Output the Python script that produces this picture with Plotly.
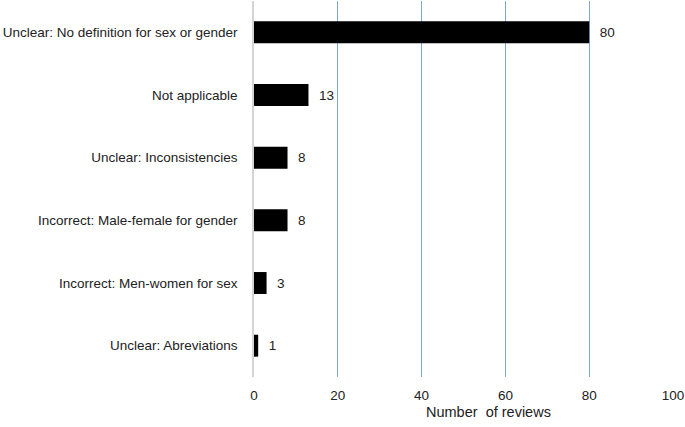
import plotly.graph_objects as go

# categories listed bottom -> top, as plotly draws them
categories = [
    "Unclear: Abreviations",
    "Incorrect: Men-women for sex",
    "Incorrect: Male-female for gender",
    "Unclear: Inconsistencies",
    "Not applicable",
    "Unclear: No definition for sex or gender",
]
reviews = [1, 3, 8, 8, 13, 80]
x_ticks = [0, 20, 40, 60, 80, 100]

font_family = "Liberation Sans, Arial, sans-serif"

fig = go.Figure(
    go.Bar(
        x=reviews,
        y=categories,
        orientation="h",
        marker=dict(color="black", line=dict(width=0)),
        width=0.35,
        text=reviews,
        texttemplate="  %{x}",
        textposition="outside",
        textfont=dict(size=13.5, color="#222", family=font_family),
        cliponaxis=False,
    )
)

fig.update_layout(
    width=685,
    height=427,
    margin=dict(l=254, r=12, t=1, b=50, autoexpand=False),
    plot_bgcolor="white",
    paper_bgcolor="white",
    font=dict(family=font_family, size=13.5, color="#222"),
    showlegend=False,
    template="none",
)

fig.update_xaxes(
    range=[0, 100],
    tickvals=x_ticks,
    showgrid=True,
    gridcolor="rgb(120,170,225)",
    gridwidth=1.2,
    zeroline=False,
    showline=False,
    ticks="",
    automargin=False,
    ticklabelstandoff=8,
)

# axis title sits right of centre in the original, so place it by hand
fig.add_annotation(
    text="Number  of reviews",
    x=0.56, xref="paper", xanchor="center",
    y=-0.092, yref="paper", yanchor="middle",
    showarrow=False,
    font=dict(size=14.5, color="#222"),
)

fig.update_yaxes(
    showgrid=False,
    showline=True,
    linecolor="#d4d4d4",
    linewidth=1.5,
    ticks="",
    automargin=False,
    ticklabelstandoff=12,
)

# the page body has a default 8px margin, drop it so the figure sits at 0,0
fig.write_html(
    "out.html",
    config={"displayModeBar": False},
    post_script="document.body.style.margin='0px';",
)
